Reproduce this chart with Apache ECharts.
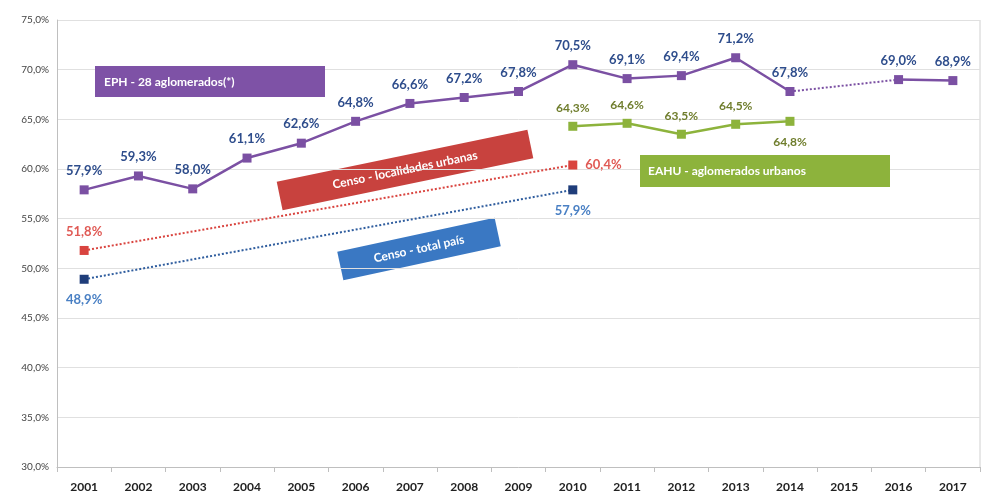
<!DOCTYPE html>
<html><head><meta charset="utf-8">
<script src="https://cdn.jsdelivr.net/npm/echarts@6/dist/echarts.min.js"></script>
<style>html,body{margin:0;padding:0;background:#fff}#c{width:986px;height:499px}</style>
</head><body><div id="c"></div>
<script>
const years = ['2001','2002','2003','2004','2005','2006','2007','2008','2009','2010','2011','2012','2013','2014','2015','2016','2017'];
const eph = [57.9,59.3,58.0,61.1,62.6,64.8,66.6,67.2,67.8,70.5,69.1,69.4,71.2,67.8,null,69.0,68.9];
const ephGap = [null,null,null,null,null,null,null,null,null,null,null,null,null,67.8,null,69.0,null];
const eahu = [null,null,null,null,null,null,null,null,null,64.3,64.6,63.5,64.5,64.8,null,null,null];
const censoUrb = [51.8,null,null,null,null,null,null,null,null,60.4,null,null,null,null,null,null,null];
const censoTot = [48.9,null,null,null,null,null,null,null,null,57.9,null,null,null,null,null,null,null];
const yTicks = [30,35,40,45,50,55,60,65,70,75];

const fmt = v => v.toFixed(1).replace('.', ',') + '%';
const lblFont = {fontFamily:'Lato', fontWeight:'bold', fontSize:13};

function box(cx, cy, w, h, deg, color, text){
  return {type:'group', x:cx, y:cy, rotation: deg*Math.PI/180, z:10, children:[
    {type:'rect', shape:{x:-w/2,y:-h/2,width:w,height:h}, style:{fill:color}},
    {type:'text', x:0, y:0, style:{text:text, fill:'#fff', font:'bold 12px Lato', align:'center', verticalAlign:'middle'}}
  ]};
}

const eahuData = eahu.map((v,i) => (i===13 && v!=null) ? {value:v, label:{position:'bottom', distance:10}} : v);
const urbData = censoUrb.map((v,i) => (i===0 && v!=null) ? {value:v, label:{position:'top', distance:8}} : v);

const chart = echarts.init(document.getElementById('c'));
chart.setOption({
  animation:false,
  grid:{left:57, right:6, top:20, bottom:32},
  xAxis:{type:'category', data:years, boundaryGap:true,
    axisLine:{lineStyle:{color:'#bfbfbf'}}, axisTick:{show:true, lineStyle:{color:'#bfbfbf'}},
    axisLabel:{color:'#222', fontFamily:'Lato', fontWeight:'bold', fontSize:12, margin:14}},
  yAxis:{type:'value', min:30, max:75, interval:5,
    axisLine:{show:true, lineStyle:{color:'#bfbfbf'}}, axisTick:{show:false},
    splitLine:{lineStyle:{color:'#e0e0e0'}},
    axisLabel:{color:'#444', fontFamily:'Lato', fontSize:10, formatter: v => v.toFixed(1).replace('.', ',') + '%'}},
  graphic:[
    {type:'line', shape:{x1:980,y1:20,x2:980,y2:467}, style:{stroke:'#d0d0d0', lineWidth:1}},
    {type:'rect', shape:{x:95,y:66,width:230,height:31}, style:{fill:'#7e52a6'}, z:10},
    {type:'text', x:104, y:82, style:{text:'EPH - 28 aglomerados(*)', fill:'#fff', font:'bold 12px Lato', verticalAlign:'middle'}, z:11},
    box(405, 170, 256, 29, 11.7, '#c8423e', 'Censo - localidades urbanas'),
    box(419, 249, 161, 29, 12.2, '#3a78c3', 'Censo - total país'),
    {type:'rect', shape:{x:640,y:155,width:250,height:32}, style:{fill:'#8db33c'}, z:10},
    {type:'text', x:648, y:171, style:{text:'EAHU - aglomerados urbanos', fill:'#fff', font:'bold 12px Lato', verticalAlign:'middle'}, z:11}
  ],
  series:[
    {type:'line', data:ephGap, connectNulls:true, symbol:'none', lineStyle:{color:'#7b50a3', width:2, type:'dotted'}, z:1},
    {type:'line', data:eph, connectNulls:false, symbol:'rect', symbolSize:9,
      itemStyle:{color:'#7b50a3'}, lineStyle:{color:'#7b50a3', width:2.5},
      label:{show:true, position:'top', distance:8, color:'#2e4d8c', ...lblFont, formatter:p=>fmt(p.value)}},
    {type:'line', data:eahuData, symbol:'rect', symbolSize:9,
      itemStyle:{color:'#8db33c'}, lineStyle:{color:'#8db33c', width:2.5},
      label:{show:true, position:'top', distance:8, color:'#6f7d2c', fontFamily:'Lato', fontWeight:'bold', fontSize:12, formatter:p=>fmt(p.value)}},
    {type:'line', data:urbData, connectNulls:true, symbol:'rect', symbolSize:9,
      itemStyle:{color:'#d9443f'}, lineStyle:{color:'#d9443f', width:2, type:'dotted'},
      label:{show:true, color:'#e05a55', ...lblFont, formatter:p=>fmt(p.value), position:'right', distance:8}},
    {type:'line', data:censoTot, connectNulls:true, symbol:'rect', symbolSize:9,
      itemStyle:{color:'#1f3d7a'}, lineStyle:{color:'#2f5d9e', width:2, type:'dotted'},
      label:{show:true, position:'bottom', distance:10, color:'#4a80c4', ...lblFont, formatter:p=>fmt(p.value)}}
  ]
});
</script></body></html>
